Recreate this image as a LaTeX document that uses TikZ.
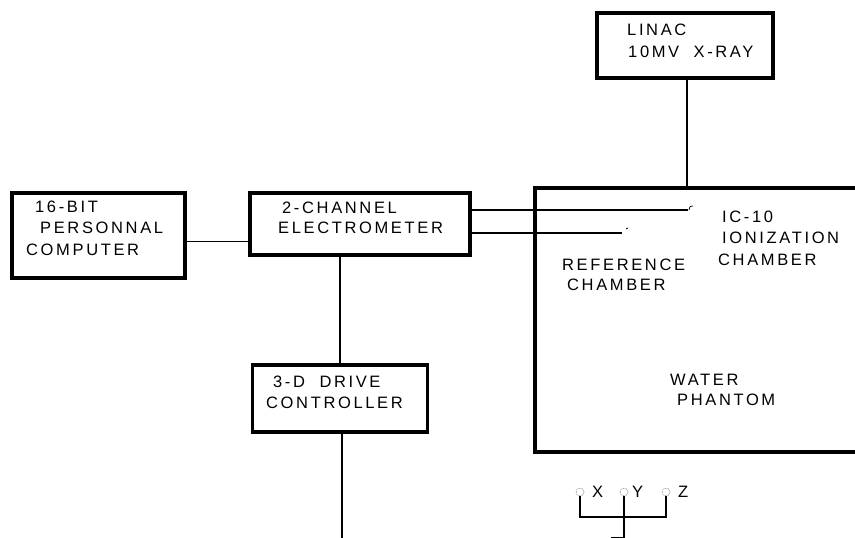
\documentclass[tikz,border=0pt]{standalone}
\usepackage{fontspec}
\setmainfont[LetterSpace=16]{Liberation Sans}
\begin{document}
\begin{tikzpicture}[x=1pt,y=-1pt,
  blk/.style={draw, line width=3.3pt, rectangle, inner sep=0pt},
  lbl/.style={anchor=base west, inner sep=0pt, font=\fontsize{16.5}{18}\selectfont},
  conn/.style={line width=1.5pt},
  axc/.style={draw=black!70, circle, line width=0.6pt, minimum size=8pt, inner sep=0pt, densely dotted}]
\useasboundingbox (0,0) rectangle (855,538);
% boxes
\node[blk, minimum width=173pt, minimum height=85pt] (comp) at (98.5,235.5) {};
\node[blk, minimum width=220pt, minimum height=62pt] (elec) at (360,224) {};
\node[blk, minimum width=175pt, minimum height=67pt] (drive) at (340,398.5) {};
\node[blk, minimum width=176pt, minimum height=65pt] (linac) at (685,45.5) {};
% phantom (open on the right)
\coordinate (phtr) at (857,188);
\coordinate (phtl) at (535,188);
\coordinate (phbl) at (535,452);
\coordinate (phbr) at (857,452);
\draw[line width=3.3pt] (phtr) -- (phtl) -- (phbl) -- (phbr);
% texts
\node[lbl] (t1) at (35,212) {16-BIT};
\node[lbl] (t2) at (40,233) {PERSONNAL};
\node[lbl] (t3) at (26,255) {COMPUTER};
\node[lbl] (t4) at (282,213) {2-CHANNEL};
\node[lbl] (t5) at (278,233) {ELECTROMETER};
\node[lbl] (t6) at (273,387) {3-D\ \ DRIVE};
\node[lbl] (t7) at (266,408) {CONTROLLER};
\node[lbl] (t8) at (627,35) {LINAC};
\node[lbl] (t9) at (628,57) {10MV\ \ X-RAY};
\node[lbl] (t10) at (722,222) {IC-10};
\node[lbl] (t11) at (722,243) {IONIZATION};
\node[lbl] (t12) at (718,265) {CHAMBER};
\node[lbl] (t13) at (562,270) {REFERENCE};
\node[lbl] (t14) at (567,290) {CHAMBER};
\node[lbl] (t15) at (670,385) {WATER};
\node[lbl] (t16) at (677,405) {PHANTOM};
% connectors
\draw[conn] ([yshift=-6pt]comp.east) coordinate (c1) -- (c1 -| elec.west);
\coordinate (icend) at (688,210);
\coordinate (refend) at (622,233);
\draw[conn] (icend -| elec.east) -- (icend);
\draw[conn] (refend -| elec.east) -- (refend);
\draw[line width=0.7pt] (icend) ++(1,0) .. controls (690,206) .. (693,206);
\draw[line width=0.7pt] (626,229) -- (628,228);
\draw[conn] (drive.north) -- (drive.north |- elec.south);
\coordinate (drvend) at (342,538);
\draw[conn] (drvend |- drive.south) -- (drvend);
\coordinate (linend) at (687,188);
\draw[conn] (linend |- linac.south) -- (linend);
% axes
\node[axc] (cx) at (580,492) {};
\node[axc] (cy) at (624,492) {};
\node[axc] (cz) at (666,492) {};
\node[lbl] (tx) at (592,497) {X};
\node[lbl] (ty) at (632,497) {Y};
\node[lbl] (tz) at (678,497) {Z};
\coordinate (axl) at (580,517);
\coordinate (axr) at (666,517);
\coordinate (axb) at (624,538);
\draw[line width=1.3pt] (cx.south) -- (axl) -- (axr) -- (cz.south);
\draw[line width=1.3pt] (cy.south) -- (axb);
\coordinate (stub) at (611,537);
\draw[line width=0.6pt] (stub) -- (axb |- stub);
\end{tikzpicture}
\end{document}
